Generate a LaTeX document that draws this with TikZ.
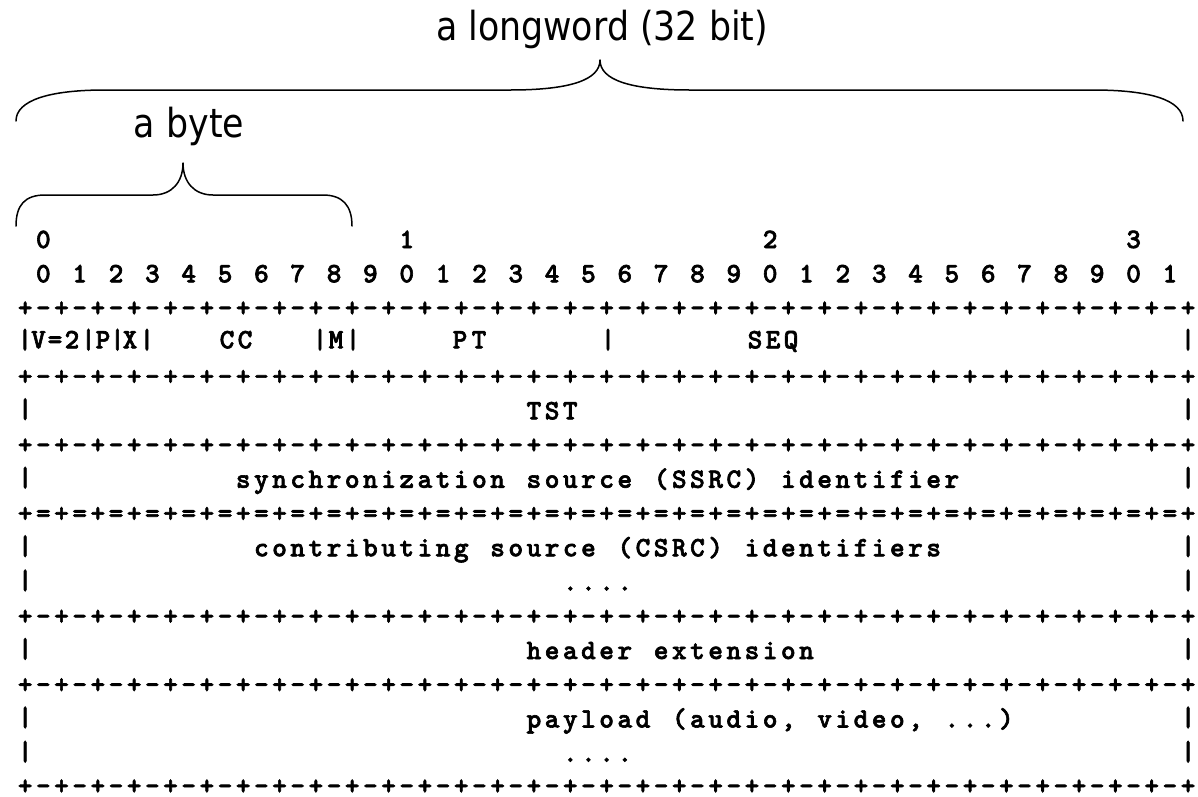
\documentclass[tikz,border=0pt]{standalone}
\usepackage{fontspec}
\newfontfamily\rfcmono[FakeBold=2.2]{lmmonolt10-bold.otf}
\newfontfamily\labelfont[FakeStretch=0.87]{DejaVu Sans}
\newlength\cw
\setlength\cw{18.17pt}
\makeatletter
\def\spc#1{\spc@#1\relax}
\def\spc@#1{\ifx\relax#1\else\makebox[\cw][c]{#1}\expandafter\spc@\fi}
\makeatother
\newcommand\brow[1]{\makebox[\cw][c]{+}\foreach \k in {1,...,32}{\makebox[\cw][c]{#1}\makebox[\cw][c]{+}}}
\newcommand\drow{\foreach \k in {0,...,31}{\pgfmathtruncatemacro\dg{mod(\k,10)}\makebox[\cw][c]{}\makebox[\cw][c]{\dg}}}
% baselines of row r (border rows / text rows)
\newcommand\ry[1]{(241+#1*34.25+7)}
\newcommand\ty[1]{(241+#1*34.25+7)}
\newcommand\cx[1]{(15.915+#1*18.17)}
\tikzset{
  monofnt/.style={font={\rfcmono\fontsize{28pt}{28pt}\selectfont}},
  mono/.style={monofnt, inner sep=0pt, anchor=base west},
  monoc/.style={monofnt, inner sep=0pt, anchor=base},
  lbl/.style={font={\labelfont\fontsize{40pt}{40pt}\selectfont}, inner sep=0pt, anchor=base},
  brace/.style={line width=1.5pt, line cap=round, line join=round}
}
\begin{document}
\begin{tikzpicture}[x=1pt,y=-1pt]
\useasboundingbox[fill=white] (0,0) rectangle (1198,796);
% labels
\node[lbl] (lw) at (602,40) {a longword (32 bit)};
\node[lbl] (lb) at (189,137) {a byte};
% big brace
\draw[brace] (16,121) .. controls (16,100) and (50,90) .. (105,90) -- (510,90)
  .. controls (570,90) and (600,80) .. (600,60)
  .. controls (600,80) and (630,90) .. (690,90) -- (1093,90)
  .. controls (1150,90) and (1183,100) .. (1183,121);
% small brace
\draw[brace] (16,226) .. controls (16,205) and (25,195) .. (45,195) -- (153,195)
  .. controls (172,195) and (183,182) .. (183,163)
  .. controls (183,182) and (194,195) .. (213,195) -- (323,195)
  .. controls (342,195) and (352,205) .. (352,226);
% top numbers
\node[mono] (n0) at ({\cx{1}},{\ry{0}}) {\spc{0}};
\node[mono] (n1) at ({\cx{21}},{\ry{0}}) {\spc{1}};
\node[mono] (n2) at ({\cx{41}},{\ry{0}}) {\spc{2}};
\node[mono] (n3) at ({\cx{61}},{\ry{0}}) {\spc{3}};
\node[mono] (dig) at ({\cx{0}},{\ry{1}}) {\drow};
% border rows
\node[mono] (b2) at ({\cx{0}},{\ry{2}}) {\brow{-}};
\node[mono] (b4) at ({\cx{0}},{\ry{4}}) {\brow{-}};
\node[mono] (b6) at ({\cx{0}},{\ry{6}}) {\brow{-}};
\node[mono] (b8) at ({\cx{0}},{\ry{8}}) {\brow{=}};
\node[mono] (b11) at ({\cx{0}},{\ry{11}}) {\brow{-}};
\node[mono] (b13) at ({\cx{0}},{\ry{13}}) {\brow{-}};
\node[mono] (b16) at ({\cx{0}},{\ry{16}-1.5}) {\smash{\brow{-}}};
% row 3 : V=2 P X CC M PT SEQ
\foreach \xx/\ch [count=\i] in {25/|,38.5/V,55/=,72/2,88.5/|,103/P,117.5/|,130/X,147/|,227/C,245/C,320/|,336/M,353/|,460/P,479/T,608/|,755/S,773/E,791/Q,1188/|}
  \node[monoc] (h\i) at ({\xx},{241+3*34.25+4.5}) {\ch};
% side bars
\foreach \r in {5,7,9,10,12,14,15} {
  \node[mono] (l\r) at ({\cx{0}},{\ty{\r}-1.5}) {\spc{|}};
  \node[mono] (r\r) at ({\cx{64}},{\ty{\r}-1.5}) {\spc{|}};
}
% row texts
\node[mono] (tst) at ({\cx{28}},{\ty{5}}) {\spc{TST}};
\node[mono] (s1) at ({\cx{12}},{\ty{7}}) {\spc{synchronization}};
\node[mono] (s2) at ({\cx{28}},{\ty{7}}) {\spc{source}};
\node[mono] (s3) at ({\cx{35}},{\ty{7}}) {\spc{(SSRC)}};
\node[mono] (s4) at ({\cx{42}},{\ty{7}}) {\spc{identifier}};
\node[mono] (c1) at ({\cx{13}},{\ty{9}}) {\spc{contributing}};
\node[mono] (c2) at ({\cx{26}},{\ty{9}}) {\spc{source}};
\node[mono] (c3) at ({\cx{33}},{\ty{9}}) {\spc{(CSRC)}};
\node[mono] (c4) at ({\cx{40}},{\ty{9}}) {\spc{identifiers}};
\node[mono] (d1) at ({\cx{30}},{\ty{10}}) {\spc{....}};
\node[mono] (e1) at ({\cx{28}},{\ty{12}}) {\spc{header}};
\node[mono] (e2) at ({\cx{35}},{\ty{12}}) {\spc{extension}};
\node[mono] (p1) at ({\cx{28}},{\ty{14}}) {\spc{payload}};
\node[mono] (p2) at ({\cx{36}},{\ty{14}}) {\spc{(audio,}};
\node[mono] (p3) at ({\cx{44}},{\ty{14}}) {\spc{video,}};
\node[mono] (p4) at ({\cx{51}},{\ty{14}}) {\spc{...)}};
\node[mono] (d2) at ({\cx{30}},{\ty{15}}) {\spc{....}};
\end{tikzpicture}
\end{document}
